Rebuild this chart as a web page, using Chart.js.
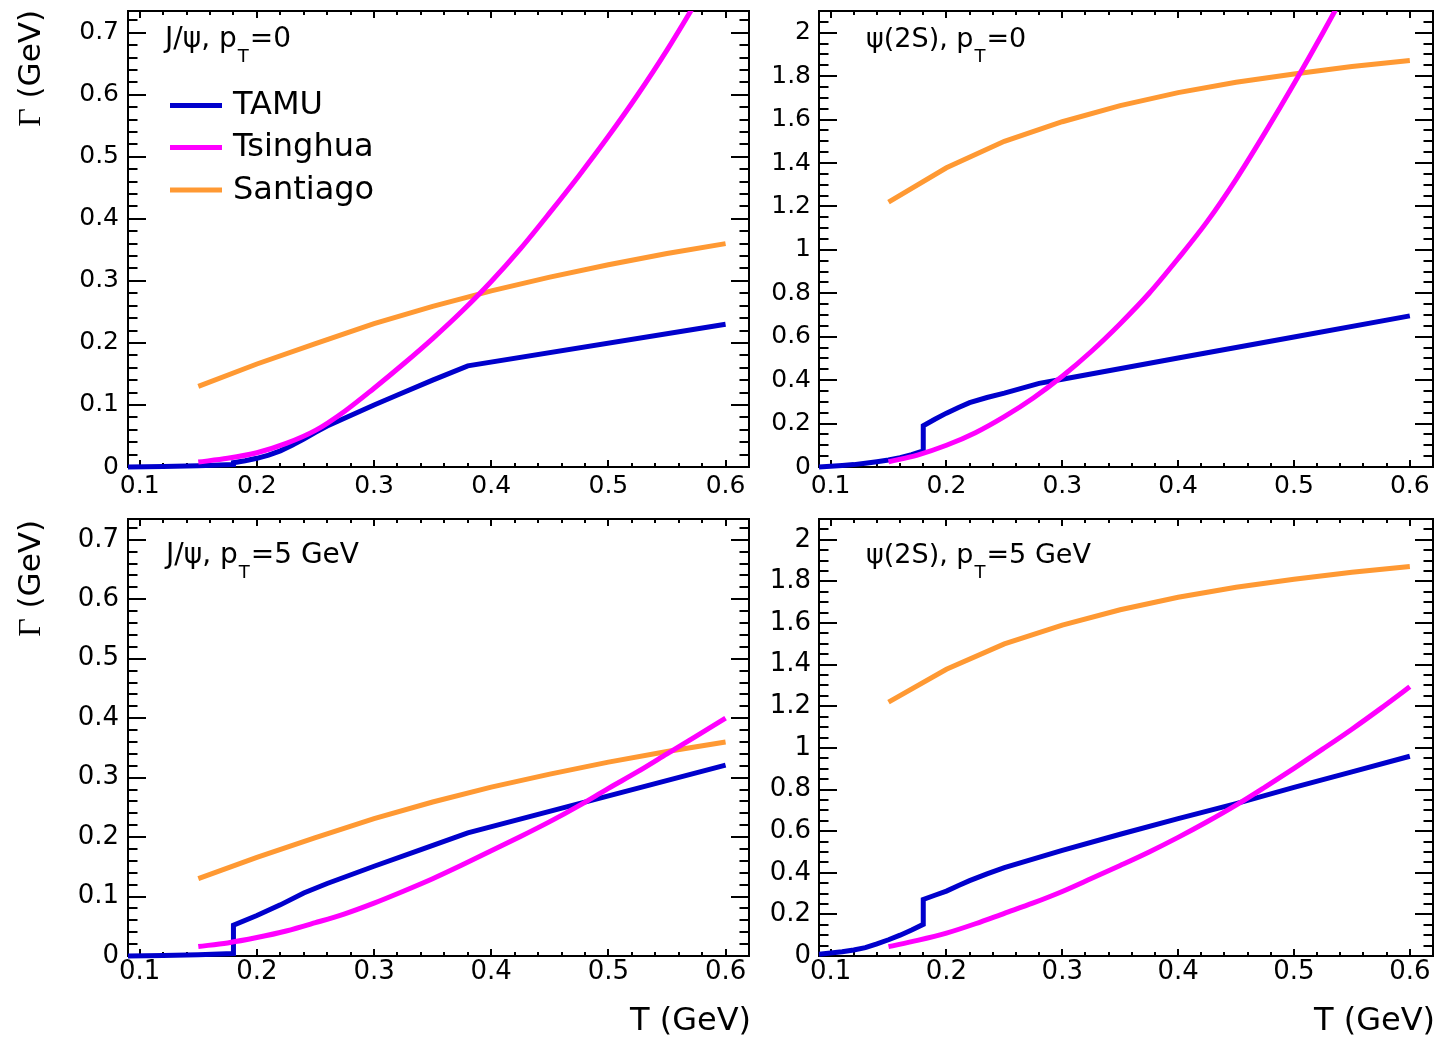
<!DOCTYPE html>
<html>
<head>
<meta charset="utf-8">
<script src="https://cdn.jsdelivr.net/npm/chart.js@4.4.1/dist/chart.umd.min.js"></script>
<style>
html,body{margin:0;padding:0;background:#fff;overflow:hidden;width:1435px;height:1037px;}
canvas{position:absolute;}
</style>
</head>
<body>
<canvas id="c0" width="765" height="505" style="left:0px;top:0px;width:765px;height:505px"></canvas>
<canvas id="c1" width="680" height="505" style="left:755px;top:0px;width:680px;height:505px"></canvas>
<canvas id="c2" width="765" height="532" style="left:0px;top:505px;width:765px;height:532px"></canvas>
<canvas id="c3" width="680" height="532" style="left:755px;top:505px;width:680px;height:532px"></canvas>
<script>
// ---------------- data ----------------
const SERIES_NAMES = ['TAMU', 'Tsinghua', 'Santiago'];

const X_TICKS = [0.1, 0.2, 0.3, 0.4, 0.5, 0.6];
const X_TICK_LABELS = ['0.1', '0.2', '0.3', '0.4', '0.5', '0.6'];
const Y_TICKS_JPSI = [0, 0.1, 0.2, 0.3, 0.4, 0.5, 0.6, 0.7];
const Y_TICK_LABELS_JPSI = ['0', '0.1', '0.2', '0.3', '0.4', '0.5', '0.6', '0.7'];
const Y_TICKS_PSI2S = [0, 0.2, 0.4, 0.6, 0.8, 1.0, 1.2, 1.4, 1.6, 1.8, 2.0];
const Y_TICK_LABELS_PSI2S = ['0', '0.2', '0.4', '0.6', '0.8', '1', '1.2', '1.4', '1.6', '1.8', '2'];

const X_TITLE = 'T (GeV)';
const Y_TITLE = ['Γ', ' (GeV)'];
const LABEL_JPSI_PT0 = ['J/ψ, p', 'T', '=0'];
const LABEL_PSI2S_PT0 = ['ψ(2S), p', 'T', '=0'];
const LABEL_JPSI_PT5 = ['J/ψ, p', 'T', '=5 GeV'];
const LABEL_PSI2S_PT5 = ['ψ(2S), p', 'T', '=5 GeV'];

// Santiago
const T_SANTIAGO = [0.15, 0.2, 0.25, 0.3, 0.35, 0.4, 0.45, 0.5, 0.55, 0.6];
const G_SANTIAGO_JPSI = [0.13, 0.166, 0.199, 0.231, 0.259, 0.284, 0.306, 0.326, 0.344, 0.36];
const G_SANTIAGO_PSI2S = [1.22, 1.378, 1.5, 1.59, 1.664, 1.724, 1.772, 1.81, 1.844, 1.872];

// Tsinghua
const T_TSINGHUA = [0.15, 0.175, 0.2, 0.225, 0.25, 0.275, 0.3, 0.325, 0.35, 0.375, 0.4, 0.425, 0.45, 0.475, 0.5, 0.525, 0.55, 0.575, 0.6];
const G_TSINGHUA_JPSI_PT0 = [0.008, 0.014, 0.023, 0.038, 0.059, 0.090, 0.127, 0.166, 0.207, 0.251, 0.299, 0.352, 0.410, 0.470, 0.533, 0.600, 0.672, 0.750, 0.832];
const G_TSINGHUA_PSI2S_PT0 = [0.024, 0.055, 0.100, 0.158, 0.232, 0.318, 0.418, 0.532, 0.660, 0.800, 0.960, 1.130, 1.325, 1.540, 1.765, 2.000, 2.245, 2.500, 2.760];
const G_TSINGHUA_JPSI_PT5 = [0.016, 0.022, 0.031, 0.042, 0.056, 0.071, 0.089, 0.109, 0.130, 0.153, 0.177, 0.201, 0.226, 0.253, 0.282, 0.310, 0.340, 0.370, 0.400];
const G_TSINGHUA_PSI2S_PT5 = [0.045, 0.075, 0.110, 0.155, 0.205, 0.255, 0.310, 0.372, 0.435, 0.500, 0.570, 0.645, 0.725, 0.812, 0.902, 0.995, 1.090, 1.190, 1.294];

// TAMU
const T_TAMU_JPSI_PT0 = [0.09, 0.12, 0.15, 0.18, 0.18, 0.19, 0.2, 0.21, 0.22, 0.23, 0.24, 0.25, 0.26, 0.28, 0.3, 0.32, 0.35, 0.38, 0.6];
const G_TAMU_JPSI_PT0 = [0, 0.0008, 0.002, 0.004, 0.007, 0.010, 0.014, 0.019, 0.026, 0.035, 0.045, 0.056, 0.066, 0.083, 0.100, 0.116, 0.140, 0.163, 0.230];
const T_TAMU_PSI2S_PT0 = [0.09, 0.1, 0.11, 0.12, 0.13, 0.14, 0.15, 0.16, 0.17, 0.18, 0.18, 0.19, 0.2, 0.21, 0.22, 0.235, 0.25, 0.28, 0.3, 0.4, 0.5, 0.6];
const G_TAMU_PSI2S_PT0 = [0, 0.003, 0.007, 0.011, 0.017, 0.024, 0.032, 0.043, 0.057, 0.074, 0.19, 0.22, 0.248, 0.273, 0.296, 0.32, 0.34, 0.385, 0.404, 0.502, 0.599, 0.696];
const T_TAMU_JPSI_PT5 = [0.09, 0.12, 0.15, 0.18, 0.18, 0.2, 0.22, 0.24, 0.26, 0.3, 0.34, 0.38, 0.6];
const G_TAMU_JPSI_PT5 = [0, 0.0008, 0.002, 0.004, 0.052, 0.068, 0.086, 0.106, 0.122, 0.151, 0.179, 0.207, 0.321];
const T_TAMU_PSI2S_PT5 = [0.09, 0.1, 0.11, 0.12, 0.13, 0.14, 0.15, 0.16, 0.17, 0.18, 0.18, 0.19, 0.2, 0.21, 0.22, 0.235, 0.25, 0.3, 0.35, 0.4, 0.45, 0.5, 0.55, 0.6];
const G_TAMU_PSI2S_PT5 = [0.008, 0.014, 0.02, 0.029, 0.04, 0.058, 0.078, 0.1, 0.125, 0.152, 0.272, 0.292, 0.312, 0.338, 0.362, 0.395, 0.425, 0.508, 0.585, 0.66, 0.732, 0.81, 0.885, 0.96];

// ---------------- style ----------------
const FONT = "'DejaVu Sans', 'Liberation Sans', sans-serif";
const SERIF = "'Liberation Serif', 'DejaVu Serif', serif";
const COLORS = ['#0000cc', '#ff00ff', '#ff9933'];
const LW = 5;

function pts(T, G) { return T.map((t, i) => ({ x: t, y: G[i] })); }

const PANELS = [
  { id: 'c0', ox: 0, oy: 0, area: { left: 128, top: 11, right: 749, bottom: 467 },
    ymax: 0.735, yTicks: Y_TICKS_JPSI, yLabels: Y_TICK_LABELS_JPSI, yMinor: 0.02,
    tamu: [T_TAMU_JPSI_PT0, G_TAMU_JPSI_PT0], ts: G_TSINGHUA_JPSI_PT0, sa: G_SANTIAGO_JPSI,
    label: LABEL_JPSI_PT0, labelPos: [165, 47], labelSize: 28,
    legend: true, yTitle: [40, 10], xTitle: null, tickFont: 25, xPad: 4, yPad: 9 },
  { id: 'c1', ox: 755, oy: 0, area: { left: 64, top: 11, right: 678, bottom: 467 },
    ymax: 2.1, yTicks: Y_TICKS_PSI2S, yLabels: Y_TICK_LABELS_PSI2S, yMinor: 0.05,
    tamu: [T_TAMU_PSI2S_PT0, G_TAMU_PSI2S_PT0], ts: G_TSINGHUA_PSI2S_PT0, sa: G_SANTIAGO_PSI2S,
    label: LABEL_PSI2S_PT0, labelPos: [866, 47], labelSize: 27,
    legend: false, yTitle: null, xTitle: null, tickFont: 25, xPad: 4, yPad: 8 },
  { id: 'c2', ox: 0, oy: 505, area: { left: 128, top: 14, right: 749, bottom: 451 },
    ymax: 0.735, yTicks: Y_TICKS_JPSI, yLabels: Y_TICK_LABELS_JPSI, yMinor: 0.02,
    tamu: [T_TAMU_JPSI_PT5, G_TAMU_JPSI_PT5], ts: G_TSINGHUA_JPSI_PT5, sa: G_SANTIAGO_JPSI,
    label: LABEL_JPSI_PT5, labelPos: [166, 563], labelSize: 28,
    legend: false, yTitle: [40, 520], xTitle: [751, 1030], tickFont: 26, xPad: 1, yPad: 9 },
  { id: 'c3', ox: 755, oy: 505, area: { left: 64, top: 14, right: 678, bottom: 451 },
    ymax: 2.1, yTicks: Y_TICKS_PSI2S, yLabels: Y_TICK_LABELS_PSI2S, yMinor: 0.05,
    tamu: [T_TAMU_PSI2S_PT5, G_TAMU_PSI2S_PT5], ts: G_TSINGHUA_PSI2S_PT5, sa: G_SANTIAGO_PSI2S,
    label: LABEL_PSI2S_PT5, labelPos: [866, 563], labelSize: 27,
    legend: false, yTitle: null, xTitle: [1435, 1030], tickFont: 26, xPad: 1, yPad: 8 }
];

function near(list, v) { return list.some(t => Math.abs(t - v) < 1e-6); }

function decor(p) {
  return {
    id: 'decor_' + p.id,
    beforeDatasetsDraw(chart) {
      const ctx = chart.ctx, a = chart.chartArea, xs = chart.scales.x, ys = chart.scales.y;
      ctx.save();
      ctx.strokeStyle = '#000';
      ctx.lineWidth = 2;
      ctx.beginPath();
      for (let k = 0; ; k++) {
        const v = +(0.1 + k * 0.02).toFixed(5);
        if (v > xs.max + 1e-9) break;
        const len = near(X_TICKS, v) ? 7 : 4;
        const px = Math.round(xs.getPixelForValue(v));
        ctx.moveTo(px, a.bottom); ctx.lineTo(px, a.bottom - len);
        ctx.moveTo(px, a.top); ctx.lineTo(px, a.top + len);
      }
      for (let k = 0; ; k++) {
        const v = +(k * p.yMinor).toFixed(5);
        if (v > ys.max + 1e-9) break;
        const len = near(p.yTicks, v) ? 18 : 9.5;
        const py = Math.round(ys.getPixelForValue(v));
        ctx.moveTo(a.left, py); ctx.lineTo(a.left + len, py);
        ctx.moveTo(a.right, py); ctx.lineTo(a.right - len, py);
      }
      ctx.stroke();
      ctx.strokeRect(a.left, a.top, a.right - a.left, a.bottom - a.top);
      ctx.restore();
    },
    afterDraw(chart) {
      const ctx = chart.ctx;
      ctx.save();
      ctx.fillStyle = '#000';
      ctx.textBaseline = 'alphabetic';
      ctx.textAlign = 'left';
      // panel label with subscript
      let x = p.labelPos[0] - p.ox, y = p.labelPos[1] - p.oy;
      ctx.font = p.labelSize + 'px ' + FONT;
      ctx.fillText(p.label[0], x, y);
      x += ctx.measureText(p.label[0]).width + 1;
      ctx.font = '18px ' + FONT;
      ctx.fillText(p.label[1], x, y + 15);
      x += ctx.measureText(p.label[1]).width + 1;
      ctx.font = p.labelSize + 'px ' + FONT;
      ctx.fillText(p.label[2], x, y);
      // legend
      if (p.legend) {
        const lineY = [105.5, 147.5, 190];
        const textY = [113.5, 156, 199];
        ctx.font = '32px ' + FONT;
        for (let i = 0; i < SERIES_NAMES.length; i++) {
          ctx.strokeStyle = COLORS[i];
          ctx.lineWidth = LW;
          ctx.beginPath();
          ctx.moveTo(170 - p.ox, lineY[i] - p.oy);
          ctx.lineTo(222 - p.ox, lineY[i] - p.oy);
          ctx.stroke();
          ctx.fillText(SERIES_NAMES[i], 233 - p.ox, textY[i] - p.oy);
        }
      }
      // y title (rotated)
      if (p.yTitle) {
        ctx.save();
        ctx.translate(p.yTitle[0] - p.ox, p.yTitle[1] - p.oy);
        ctx.rotate(-Math.PI / 2);
        ctx.font = '32px ' + SERIF;
        const w0 = ctx.measureText(Y_TITLE[0]).width;
        ctx.font = '31px ' + FONT;
        const w1 = ctx.measureText(Y_TITLE[1]).width;
        ctx.font = '32px ' + SERIF;
        ctx.fillText(Y_TITLE[0], -(w0 + w1), 0);
        ctx.font = '31px ' + FONT;
        ctx.fillText(Y_TITLE[1], -w1, 0);
        ctx.restore();
      }
      // x title
      if (p.xTitle) {
        ctx.font = '32px ' + FONT;
        ctx.textAlign = 'right';
        ctx.fillText(X_TITLE, p.xTitle[0] - p.ox, p.xTitle[1] - p.oy);
      }
      ctx.restore();
    }
  };
}

function makeChart(p) {
  const canvas = document.getElementById(p.id);
  const W = canvas.width, H = canvas.height;
  const common = { pointRadius: 0, pointHoverRadius: 0, borderWidth: LW, fill: false,
                   clip: { left: 6, top: 0, right: 6, bottom: 6 } };
  const datasets = [
    Object.assign({ label: SERIES_NAMES[0], data: pts(p.tamu[0], p.tamu[1]),
      borderColor: COLORS[0], tension: 0, order: 2 }, common),
    Object.assign({ label: SERIES_NAMES[1], data: pts(T_TSINGHUA, p.ts),
      borderColor: COLORS[1], cubicInterpolationMode: 'monotone', order: 0 }, common),
    Object.assign({ label: SERIES_NAMES[2], data: pts(T_SANTIAGO, p.sa),
      borderColor: COLORS[2], tension: 0, order: 1 }, common)
  ];
  return new Chart(canvas, {
    type: 'line',
    data: { datasets },
    options: {
      responsive: false,
      animation: false,
      devicePixelRatio: 1,
      events: [],
      layout: { padding: { left: 0, top: p.area.top, right: W - p.area.right, bottom: 0 } },
      plugins: { legend: { display: false }, tooltip: { enabled: false } },
      scales: {
        x: {
          type: 'linear', min: 0.09, max: 0.62,
          afterBuildTicks: s => { s.ticks = X_TICKS.map(v => ({ value: v })); },
          afterFit: s => { s.height = H - p.area.bottom; s.paddingLeft = 0; s.paddingRight = 0; s.paddingTop = 0; s.paddingBottom = 0; },
          grid: { display: false, drawTicks: false },
          border: { display: false },
          ticks: { autoSkip: false, maxRotation: 0, minRotation: 0, padding: p.xPad, color: '#000',
                   font: { family: FONT, size: p.tickFont },
                   callback: (v, i) => X_TICK_LABELS[i] }
        },
        y: {
          type: 'linear', min: 0, max: p.ymax,
          afterBuildTicks: s => { s.ticks = p.yTicks.map(v => ({ value: v })); },
          afterFit: s => { s.width = p.area.left; s.paddingLeft = 0; s.paddingRight = 0; s.paddingTop = 0; s.paddingBottom = 0; },
          grid: { display: false, drawTicks: false },
          border: { display: false },
          ticks: { autoSkip: false, padding: p.yPad, color: '#000',
                   font: { family: FONT, size: p.tickFont },
                   callback: (v, i) => p.yLabels[i] }
        }
      }
    },
    plugins: [decor(p)]
  });
}

PANELS.forEach(makeChart);
</script>
</body>
</html>
